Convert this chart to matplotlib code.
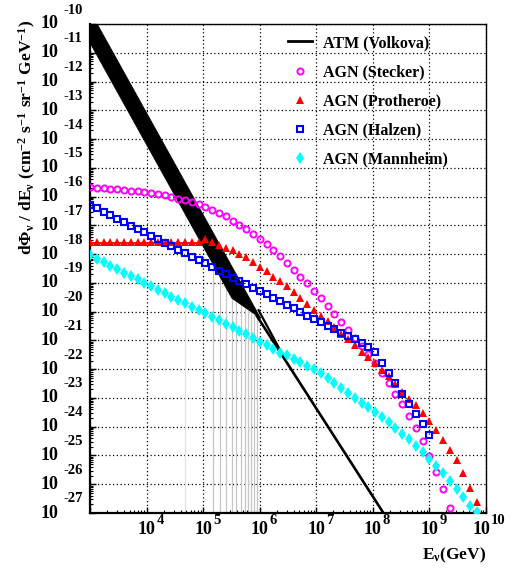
import numpy as np
import matplotlib
matplotlib.use('Agg')
import matplotlib.pyplot as plt
from matplotlib.lines import Line2D
from matplotlib.ticker import LogLocator, NullFormatter

plt.rcParams['font.family'] = ['Liberation Serif', 'DejaVu Serif']
plt.rcParams['font.weight'] = 'bold'
plt.rcParams['mathtext.fontset'] = 'custom'
plt.rcParams['mathtext.rm'] = 'Liberation Serif:bold'
plt.rcParams['mathtext.it'] = 'Liberation Serif:bold'
plt.rcParams['mathtext.bf'] = 'Liberation Serif:bold'

# energy bins (log10 E / GeV)
log_e = [3.00, 3.12, 3.24, 3.36, 3.48, 3.60, 3.72, 3.84, 3.96, 4.08,
         4.20, 4.32, 4.44, 4.56, 4.68, 4.80, 4.92, 5.04, 5.16, 5.28,
         5.40, 5.52, 5.64, 5.76, 5.88, 6.00, 6.12, 6.24, 6.36, 6.48,
         6.60, 6.72, 6.84, 6.96, 7.08, 7.20, 7.32, 7.44, 7.56, 7.68,
         7.80, 7.92, 8.04, 8.16, 8.28, 8.40, 8.52, 8.64, 8.76, 8.88,
         9.00, 9.12, 9.24, 9.36, 9.48, 9.60, 9.72, 9.84, 9.96]

# log10 flux for each model
stecker = [-15.67, -15.69, -15.71, -15.73, -15.75, -15.77, -15.79, -15.82, -15.85, -15.88,
           -15.92, -15.96, -16.02, -16.07, -16.12, -16.19, -16.27, -16.36, -16.46, -16.57,
           -16.69, -16.84, -16.98, -17.12, -17.31, -17.48, -17.66, -17.86, -18.08, -18.32,
           -18.54, -18.78, -19.02, -19.28, -19.54, -19.80, -20.08, -20.36, -20.64, -20.92,
           -21.20, -21.47, -21.80, -22.14, -22.49, -22.86, -23.22, -23.62, -24.06, -24.51,
           -25.02, -25.57, -26.17, -26.82]
protheroe = [-17.57, -17.57, -17.57, -17.57, -17.57, -17.57, -17.57, -17.57, -17.57, -17.57,
             -17.57, -17.57, -17.57, -17.57, -17.57, -17.57, -17.57, -17.49, -17.57, -17.68,
             -17.77, -17.86, -18.01, -18.11, -18.27, -18.45, -18.59, -18.78, -18.94, -19.12,
             -19.33, -19.54, -19.75, -19.94, -20.14, -20.32, -20.55, -20.76, -20.95, -21.16,
             -21.39, -21.59, -21.80, -22.03, -22.23, -22.50, -22.78, -23.02, -23.26, -23.51,
             -23.79, -24.12, -24.46, -24.81, -25.16, -25.62, -26.12, -26.61]
halzen = [-16.29, -16.41, -16.53, -16.64, -16.78, -16.90, -17.01, -17.13, -17.24, -17.36,
          -17.48, -17.60, -17.72, -17.86, -17.97, -18.09, -18.21, -18.32, -18.44, -18.58,
          -18.70, -18.82, -18.93, -19.05, -19.17, -19.28, -19.40, -19.52, -19.63, -19.77,
          -19.89, -20.01, -20.14, -20.26, -20.37, -20.49, -20.61, -20.73, -20.85, -20.96,
          -21.10, -21.22, -21.42, -21.78, -22.12, -22.49, -22.86, -23.21, -23.57, -23.92,
          -24.29]
mannheim = [-18.03, -18.16, -18.28, -18.40, -18.52, -18.64, -18.76, -18.88, -19.00, -19.12,
            -19.24, -19.36, -19.48, -19.60, -19.71, -19.83, -19.94, -20.06, -20.18, -20.30,
            -20.42, -20.55, -20.67, -20.79, -20.91, -21.04, -21.16, -21.30, -21.43, -21.51,
            -21.65, -21.76, -21.88, -22.00, -22.15, -22.32, -22.48, -22.64, -22.82, -22.99,
            -23.17, -23.31, -23.50, -23.65, -23.85, -24.04, -24.26, -24.44, -24.66, -24.89,
            -25.13, -25.37, -25.62, -25.88, -26.17, -26.44, -26.75, -26.98]
protheroe_flat = [3.0, 5.0, -17.62]

# atmospheric (Volkova) band
atm_log_e = [3.000, 4.000, 5.000, 5.500, 6.000]
atm_upper = [-9.565, -13.105, -16.645, -18.415, -20.190]
atm_lower = [-10.665, -14.205, -17.745, -19.515, -20.200]
atm_tail_a_log_e = [5.95, 8.20]
atm_tail_a = [-20.15, -27.04]
atm_tail_b_log_e = [5.98, 6.45]
atm_tail_b = [-19.95, -21.66]

# faint error-bar lines under the atmospheric band
err_log_e = [4.678, 5.173, 5.297, 5.412, 5.509, 5.588, 5.668, 5.739, 5.800, 5.853, 5.906, 5.951]
err_top = [-16.4, -18.1, -18.5, -18.9, -19.4, -19.55, -19.7, -19.8, -19.9, -19.95, -20.0, -20.05]
err_col = ['#e2e2e2'] + ['#c6c6c6'] * 11

W, H = 513, 570
fig = plt.figure(figsize=(W / 100, H / 100), dpi=100)
L, R, T, B = 90, 486, 24, 513
ax = fig.add_axes([L / W, 1 - B / H, (R - L) / W, (B - T) / H])
ax.set_xscale('log')
ax.set_yscale('log')
ax.set_xlim(1e3, 1e10)
ax.set_ylim(1e-27, 1e-10)

def p10(a):
    return 10.0 ** np.asarray(a, dtype=float)

# grid
ax.grid(True, which='major', color='black', linestyle=(0, (1, 2)), linewidth=0.9)
ax.set_axisbelow(True)

# error lines
ax.vlines(p10(err_log_e), 1e-27, p10(err_top), colors=err_col, linewidth=0.9, zorder=1)

# ATM band
ax.fill_between(p10(atm_log_e), p10(atm_lower), p10(atm_upper), facecolor='black',
                linewidth=0.6, edgecolor='black', zorder=2)
ax.plot(p10(atm_tail_a_log_e), p10(atm_tail_a), color='black', linewidth=1.9, zorder=2)
ax.plot(p10(atm_tail_b_log_e), p10(atm_tail_b), color='black', linewidth=1.6, zorder=2)

ax.plot(p10(protheroe_flat[:2]), p10([protheroe_flat[2]] * 2), color='red', linewidth=1.3, zorder=3)

ms = dict(linestyle='none', zorder=4)
h_st, = ax.plot(p10(log_e[:len(stecker)]), p10(stecker), marker='o', markersize=4.4,
                markerfacecolor='none', markeredgecolor='#ff00ff', markeredgewidth=1.4, **ms)
h_pr, = ax.plot(p10(log_e[:len(protheroe)]), p10(protheroe), marker='^', markersize=5.5,
                color='red', markeredgewidth=0, **ms)
h_ha, = ax.plot(p10(log_e[:len(halzen)]), p10(halzen), marker='s', markersize=4.8,
                markerfacecolor='none', markeredgecolor='#0000ff', markeredgewidth=1.5, **ms)
h_ma, = ax.plot(p10(log_e[:len(mannheim)]), p10(mannheim), marker='d', markersize=6.0,
                color='#00ffff', markeredgewidth=0, **ms)

h_atm = Line2D([], [], color='black', linewidth=2.0)
leg = ax.legend([h_atm, h_st, h_pr, h_ha, h_ma],
                ['ATM (Volkova)', 'AGN (Stecker)', 'AGN (Protheroe)', 'AGN (Halzen)', 'AGN (Mannheim)'],
                loc='upper left', bbox_to_anchor=(288 / W, 1 - 35 / H), bbox_transform=fig.transFigure,
                frameon=False, fontsize=11.5, handlelength=1.5, handletextpad=0.7,
                labelspacing=0.82, borderpad=0, borderaxespad=0)
for t in leg.get_texts():
    t.set_fontweight('bold')

# ticks
ax.xaxis.set_major_locator(LogLocator(base=10, numticks=20))
ax.xaxis.set_minor_locator(LogLocator(base=10, subs=np.arange(2, 10), numticks=20))
ax.yaxis.set_major_locator(LogLocator(base=10, numticks=30))
ax.yaxis.set_minor_locator(LogLocator(base=10, subs=np.arange(2, 10), numticks=30))
for a in (ax.xaxis, ax.yaxis):
    a.set_major_formatter(NullFormatter())
    a.set_minor_formatter(NullFormatter())
ax.tick_params(which='both', direction='in', top=False, right=False, color='black')
ax.tick_params(which='major', length=4.5, width=1.0)
ax.tick_params(which='minor', length=2.5, width=0.8)
for s in ['left', 'bottom']:
    ax.spines[s].set_linewidth(1.6)
for s in ['top', 'right']:
    ax.spines[s].set_linewidth(1.0)

# tick labels (ROOT style 10 with raised exponent)
for p in range(-27, -9):
    ax.annotate('10', xy=(0, 10.0 ** p), xycoords=('axes fraction', 'data'),
                xytext=(-32, 0), textcoords='offset pixels', ha='right', va='center',
                fontsize=13, fontweight='bold')
    ax.annotate(str(p), xy=(0, 10.0 ** p), xycoords=('axes fraction', 'data'),
                xytext=(-26, 14), textcoords='offset pixels', ha='left', va='center',
                fontsize=10.5, fontweight='bold')
for p in range(4, 11):
    dx = -5 if p == 10 else 0
    ax.annotate('10', xy=(10.0 ** p, 0), xycoords=('data', 'axes fraction'),
                xytext=(dx, -17), textcoords='offset pixels', ha='center', va='center',
                fontsize=13, fontweight='bold')
    ax.annotate(str(p), xy=(10.0 ** p, 0), xycoords=('data', 'axes fraction'),
                xytext=(dx + 10, -8), textcoords='offset pixels', ha='left', va='center',
                fontsize=10.5, fontweight='bold')

fig.text(R / W, 1 - 555 / H, r'$\mathrm{E_{\nu}(GeV)}$', ha='right', va='center', fontsize=12.5)
fig.text(27 / W, 1 - 20 / H,
         r'$\mathrm{d\Phi_{\nu}\ /\ dE_{\nu}\ (cm^{-2}\ s^{-1}\ sr^{-1}\ GeV^{-1})}$',
         rotation=90, ha='center', va='top', fontsize=12.5)

fig.savefig('out.png', dpi=100)
